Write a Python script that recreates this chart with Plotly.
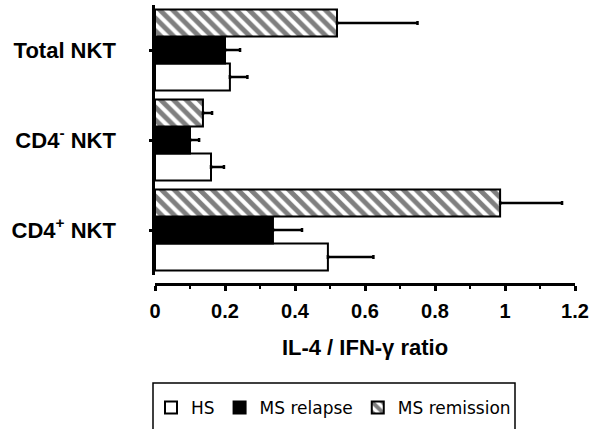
import plotly.graph_objects as go

categories = ["CD4<sup>+</sup> NKT", "CD4<sup>-</sup> NKT", "Total NKT"]
hs_vals = [0.494, 0.160, 0.214]
hs_err = [0.130, 0.037, 0.050]
relapse_vals = [0.337, 0.100, 0.200]
relapse_err = [0.083, 0.026, 0.043]
remission_vals = [0.986, 0.137, 0.520]
remission_err = [0.177, 0.026, 0.230]
x_ticks = [0, 0.2, 0.4, 0.6, 0.8, 1, 1.2]
x_ticktext = ["0", "0.2", "0.4", "0.6", "0.8", "1", "1.2"]

W, H = 597, 429
ML, MR = 155, 22
PW = W - ML - MR


def py(px):
    return 1 - px / H


def pxx(px):
    return (px - ML) / PW


def err(arr):
    return dict(type="data", array=arr, arrayminus=[0] * len(arr), symmetric=False,
                color="black", thickness=2.5, width=2)


fig = go.Figure()
fig.add_trace(go.Bar(name="HS", y=categories, x=hs_vals, orientation="h",
                     marker=dict(color="white", line=dict(color="black", width=2)),
                     error_x=err(hs_err)))
fig.add_trace(go.Bar(name="MS relapse", y=categories, x=relapse_vals, orientation="h",
                     marker=dict(color="black", line=dict(color="black", width=2)),
                     error_x=err(relapse_err)))
fig.add_trace(go.Bar(name="MS remission", y=categories, x=remission_vals, orientation="h",
                     marker=dict(color="white", line=dict(color="black", width=2),
                                 pattern=dict(shape="\\", fgcolor="black", bgcolor="white",
                                              size=9, solidity=0.55)),
                     error_x=err(remission_err)))

fig.update_layout(
    width=W, height=H,
    margin=dict(l=ML, r=MR, t=0, b=0, autoexpand=False),
    paper_bgcolor="white", plot_bgcolor="white",
    barmode="group", bargap=0.1, bargroupgap=0,
    font=dict(family="Liberation Sans, Arial, sans-serif", color="black"),
    showlegend=True,
    legend=dict(orientation="h", xref="container", yref="container",
                x=151 / W, y=1 - 390 / H, xanchor="left", yanchor="top",
                font=dict(size=17, family="DejaVu Sans, sans-serif"),
                bgcolor="rgba(0,0,0,0)", borderwidth=0, traceorder="normal"),
    xaxis=dict(range=[0, 1.2], anchor="free", position=py(284),
               showline=True, linecolor="black", linewidth=2.5,
               showgrid=False, zeroline=False,
               ticks="outside", ticklen=5, tickwidth=2.5, tickcolor="black",
               tickvals=x_ticks, ticktext=x_ticktext,
               minor=dict(ticks="outside", ticklen=3, tickwidth=2, tickcolor="black", dtick=0.1, showgrid=False),
               tickfont=dict(size=20, family="Liberation Sans, Arial, sans-serif", weight="bold"),
               ticklabelstandoff=3,
               title=dict(text="<b>IL-4 / IFN-γ ratio</b>", standoff=18,
                          font=dict(size=22, family="Liberation Sans, Arial, sans-serif"))),
    yaxis=dict(domain=[py(275), py(5)], range=[-0.5, 2.5], type="category",
               categoryorder="array", categoryarray=categories,
               showline=True, linecolor="black", linewidth=2.5,
               showgrid=False, zeroline=False,
               ticks="outside", ticklen=3, tickwidth=2.5, tickcolor="black",
               tickfont=dict(size=22, family="Liberation Sans, Arial, sans-serif", weight="bold"),
               ticklabelstandoff=29),
    shapes=[dict(type="rect", xref="paper", yref="paper",
                 x0=pxx(153), x1=pxx(515), y0=py(383), y1=py(445),
                 line=dict(color="black", width=1.5), fillcolor="rgba(0,0,0,0)", layer="above")],
)

fig.write_html("out.html")
